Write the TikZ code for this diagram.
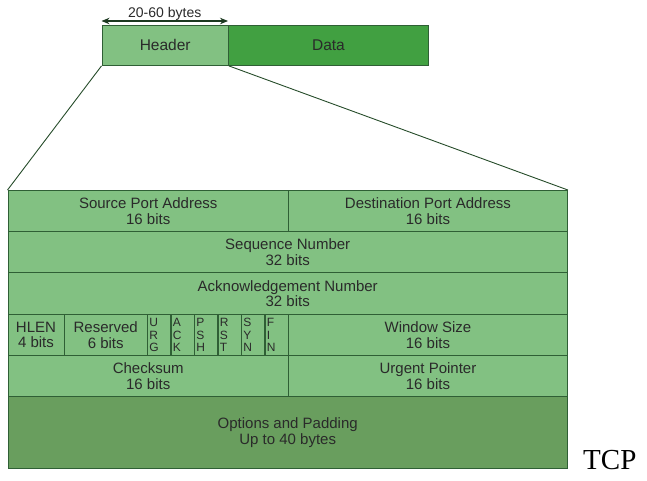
\documentclass[tikz,border=0pt]{standalone}
\usepackage{fontspec}
\setmainfont{Liberation Sans}
\newfontfamily\tcpserif{Liberation Serif}
\usetikzlibrary{arrows.meta}
\definecolor{lgreen}{HTML}{82C182}
\definecolor{dgreen}{HTML}{41A041}
\definecolor{ogreen}{HTML}{699E5E}
\definecolor{bgreen}{HTML}{2F5F35}
\definecolor{txt}{HTML}{2A2A2A}
\tikzset{
  cell/.style={draw=bgreen, line width=0.9pt, fill=lgreen, anchor=north west, inner sep=0pt,
    text=txt, align=center, font=\fontsize{15}{15.5}\selectfont},
  flagcell/.style={cell, align=left, text width=19pt, inner xsep=2pt,
    font=\fontsize{12}{12.6}\selectfont},
  topbox/.style={draw=bgreen, line width=0.9pt, anchor=north west, inner sep=0pt,
    text=txt, font=\fontsize{15.5}{17}\selectfont},
  link/.style={draw=bgreen!80!black, line width=0.9pt}
}
\begin{document}
\begin{tikzpicture}[x=1pt, y=-1pt]
\useasboundingbox (0,0) rectangle (647,480);
% top boxes
\node[topbox, fill=lgreen, minimum width=126.5pt, minimum height=40pt] (hdr) at (101.5,25) {Header};
\node[topbox, fill=dgreen, minimum width=200pt, minimum height=40pt] (data) at (228,25) {Data};
\coordinate (al) at (101.5,21);
\coordinate (ar) at (228,21);
\draw[line width=1.1pt, draw=bgreen!60!black, {Stealth[length=8pt,width=6.5pt]}-{Stealth[length=8pt,width=6.5pt]}] (al) -- node[above=-3pt, font=\fontsize{14}{15}\selectfont, text=txt] (blab) {20-60 bytes} (ar);
% table rows
\node[cell, minimum width=280.5pt, minimum height=41pt] (src) at (7.5,190) {Source Port Address\\16 bits};
\node[cell, minimum width=279pt, minimum height=41pt] (dst) at (288,190) {Destination Port Address\\16 bits};
\node[cell, minimum width=559.5pt, minimum height=41pt] (seq) at (7.5,231) {Sequence Number\\32 bits};
\node[cell, minimum width=559.5pt, minimum height=42pt] (ack) at (7.5,272) {Acknowledgement Number\\32 bits};
\node[cell, minimum width=56pt, minimum height=41pt] (hlen) at (7.5,314) {HLEN\\4 bits};
\node[cell, minimum width=83.5pt, minimum height=41pt] (res) at (63.5,314) {Reserved\\6 bits};
\node[flagcell, minimum height=41pt] (urg) at (147,314) {U\\R\\G};
\node[flagcell, minimum height=41pt] (ackf) at (170.5,314) {A\\C\\K};
\node[flagcell, minimum height=41pt] (psh) at (194,314) {P\\S\\H};
\node[flagcell, minimum height=41pt] (rst) at (217.5,314) {R\\S\\T};
\node[flagcell, minimum height=41pt] (syn) at (241,314) {S\\Y\\N};
\node[flagcell, minimum height=41pt, text width=19.5pt] (fin) at (264.5,314) {F\\I\\N};
\node[cell, minimum width=279pt, minimum height=41pt] (win) at (288,314) {Window Size\\16 bits};
\node[cell, minimum width=280.5pt, minimum height=41pt] (chk) at (7.5,355) {Checksum\\16 bits};
\node[cell, minimum width=279pt, minimum height=41pt] (urp) at (288,355) {Urgent Pointer\\16 bits};
\node[cell, fill=ogreen, minimum width=559.5pt, minimum height=72pt] (opt) at (7.5,396) {Options and Padding\\Up to 40 bytes};
% expansion lines
\draw[link] (hdr.south west) -- (src.north west);
\draw[link] (hdr.south east) -- (dst.north east);
% caption
\node[anchor=base west, inner sep=0pt, font=\tcpserif\fontsize{29}{31}\selectfont, text=black] (tcp) at (583,469) {TCP};
\end{tikzpicture}
\end{document}
